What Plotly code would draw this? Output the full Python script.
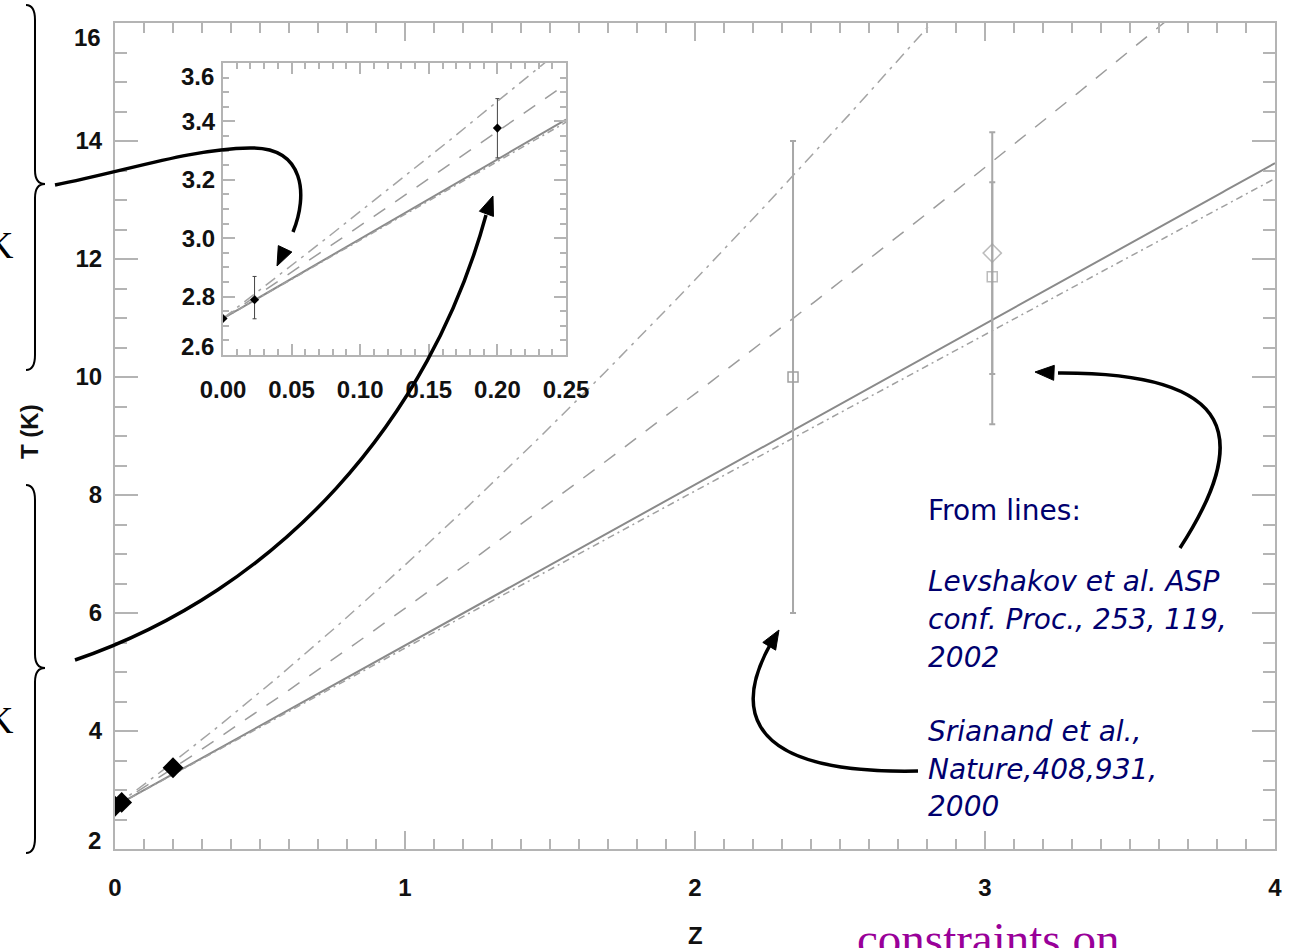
import numpy as np
import plotly.graph_objects as go

# ---------------------------------------------------------------------------
# CMB temperature vs redshift
# ---------------------------------------------------------------------------
T0 = 2.725

# model curves T(z) = T0 * (1+z)^(1-beta)
model_names = ["standard", "beta_mid", "beta_steep", "beta_low"]
model_beta = [0.0, -0.157, -0.322, 0.012]

# low-redshift SZ measurements
sz_z = [0.0, 0.023, 0.2]
sz_T = [2.725, 2.789, 3.377]
sz_err_plus = [0.0, 0.080, 0.101]
sz_err_minus = [0.0, 0.065, 0.102]

# Srianand et al. 2000
sri_z = [2.338]
sri_T = [10.0]
sri_err = [4.0]

# Levshakov et al. 2002 (two estimates at the same redshift)
lev_z = [3.025, 3.025]
lev_T = [11.7, 12.1]
lev_err_plus = [1.6, 2.05]
lev_err_minus = [1.65, 2.9]

main_yticks = [4, 6, 8, 10, 12, 14]
main_xticks = [0, 1, 2, 3, 4]
inset_xticks = [0.0, 0.05, 0.10, 0.15, 0.20, 0.25]
inset_yticks = [2.8, 3.0, 3.2, 3.4]

# ---------------------------------------------------------------------------
# page geometry (pixels)
# ---------------------------------------------------------------------------
FW, FH = 1289, 948
ML, MR, MT, MB = 115, 14, 23, 99
PW = FW - ML - MR
PH = FH - MT - MB


def px(x):
    return (x - ML) / PW


def py(y):
    return (FH - MB - y) / PH


def path_from(cmds):
    out = []
    for c in cmds:
        op, pts = c[0], c[1:]
        coords = " ".join(f"{px(a):.5f},{py(b):.5f}" for a, b in pts)
        out.append(f"{op} {coords}".strip())
    return " ".join(out)


def arrow_head(tip, tail, length=19, width=15):
    tx, ty = tip
    dx, dy = tx - tail[0], ty - tail[1]
    n = (dx * dx + dy * dy) ** 0.5
    ux, uy = dx / n, dy / n
    bx, by = tx - ux * length, ty - uy * length
    nx, ny = -uy, ux
    p1 = (bx + nx * width / 2, by + ny * width / 2)
    p2 = (bx - nx * width / 2, by - ny * width / 2)
    return path_from([("M", tip), ("L", p1), ("L", p2), ("Z",)])


AX = "#b4b4b4"
line_style = {
    "standard": dict(color="#8a8a8a", width=2, dash="solid"),
    "beta_mid": dict(color="#9c9c9c", width=1.5, dash="14px,12px"),
    "beta_steep": dict(color="#a4a4a4", width=1.5, dash="12px,6px,3px,6px"),
    "beta_low": dict(color="#a0a0a0", width=1.5, dash="7px,4px,2px,4px"),
}

fig = go.Figure()

z_main = np.linspace(0, 4, 401)
z_in = np.linspace(0, 0.25, 101)
for name, beta in zip(model_names, model_beta):
    for zz, xa, ya in ((z_main, "x", "y"), (z_in, "x2", "y2")):
        fig.add_trace(go.Scatter(
            x=zz, y=T0 * (1 + zz) ** (1 - beta), mode="lines",
            line=line_style[name], xaxis=xa, yaxis=ya,
            showlegend=False, hoverinfo="skip"))

# main panel points
fig.add_trace(go.Scatter(
    x=sz_z, y=sz_T, mode="markers",
    marker=dict(symbol="diamond", size=16, color="black"),
    error_y=dict(type="data", array=sz_err_plus, arrayminus=sz_err_minus,
                 color="black", thickness=1, width=0),
    showlegend=False))
fig.add_trace(go.Scatter(
    x=sri_z, y=sri_T, mode="markers",
    marker=dict(symbol="square-open", size=10, color="#a0a0a0", line=dict(width=1.5)),
    error_y=dict(type="data", array=sri_err, color="#a8a8a8", thickness=2, width=3),
    showlegend=False))
fig.add_trace(go.Scatter(
    x=lev_z, y=lev_T, mode="markers",
    marker=dict(symbol=["square-open", "diamond-open"], size=[10, 14],
                color="#a0a0a0", line=dict(width=1.5)),
    error_y=dict(type="data", array=lev_err_plus, arrayminus=lev_err_minus,
                 color="#a8a8a8", thickness=2, width=3),
    showlegend=False))

# inset points
fig.add_trace(go.Scatter(
    x=sz_z, y=sz_T, mode="markers", xaxis="x2", yaxis="y2",
    marker=dict(symbol="diamond", size=7, color="black"),
    error_y=dict(type="data", array=sz_err_plus, arrayminus=sz_err_minus,
                 color="#444444", thickness=1, width=2),
    showlegend=False))

tick_font = dict(family="Liberation Sans, Arial, sans-serif", size=24,
                 color="#111111", weight="bold")

axis_common = dict(showline=True, linecolor=AX, linewidth=2, mirror="ticks",
                   ticks="inside", tickcolor=AX, tickwidth=2,
                   showgrid=False, zeroline=False, tickfont=tick_font)

fig.update_layout(
    width=FW, height=FH,
    margin=dict(l=ML, r=MR, t=MT, b=MB, autoexpand=False),
    paper_bgcolor="white", plot_bgcolor="white",
    xaxis=dict(range=[0, 4], domain=[0, 1], tickvals=main_xticks,
               ticklen=18, ticklabelstandoff=16,
               minor=dict(dtick=0.1, ticklen=10, tickcolor=AX, tickwidth=2, ticks="inside"),
               **axis_common),
    yaxis=dict(range=[2, 16], domain=[0, 1], tickvals=main_yticks,
               ticklen=23, ticklabelstandoff=6,
               minor=dict(dtick=0.5, ticklen=12, tickcolor=AX, tickwidth=2, ticks="inside"),
               **axis_common),
    xaxis2=dict(range=[0, 0.25], domain=[px(223), px(566)], anchor="y2",
                tickvals=inset_xticks, ticktext=[f"{v:.2f}" for v in inset_xticks],
                ticklen=11, ticklabelstandoff=12,
                minor=dict(dtick=0.01, ticklen=6, tickcolor=AX, tickwidth=2, ticks="inside"),
                **axis_common),
    yaxis2=dict(range=[2.6, 3.6], domain=[py(355), py(63)], anchor="x2",
                tickvals=inset_yticks, ticktext=[f"{v:.1f}" for v in inset_yticks],
                ticklen=12, ticklabelstandoff=1,
                minor=dict(dtick=0.05, ticklen=6, tickcolor=AX, tickwidth=2, ticks="inside"),
                **axis_common),
)

ann = []
# end labels of the y axes sit slightly inside the frame
for txt, yv, shift in (("16", 16, -14), ("2", 2, 9)):
    ann.append(dict(x=px(103), y=yv, xref="paper", yref="y", text=txt,
                    showarrow=False, xanchor="right", yanchor="middle",
                    yshift=shift, font=tick_font))
for txt, yv, shift in (("3.6", 3.6, -14), ("2.6", 2.6, 8)):
    ann.append(dict(x=px(216), y=yv, xref="paper", yref="y2", text=txt,
                    showarrow=False, xanchor="right", yanchor="middle",
                    yshift=shift, font=tick_font))

# axis titles
ann.append(dict(x=px(695), y=py(935), xref="paper", yref="paper", text="Z",
                showarrow=False, xanchor="center", yanchor="middle", font=tick_font))
ann.append(dict(x=px(30), y=py(432), xref="paper", yref="paper", text="T (K)",
                showarrow=False, textangle=-90, xanchor="center", yanchor="middle",
                font=tick_font))

# reference notes
navy = "#00006e"
note_font = dict(family="DejaVu Sans, sans-serif", size=28, color=navy)
notes = [
    ("From lines:", 510, False),
    ("Levshakov et al. ASP", 581, True),
    ("conf. Proc., 253, 119,", 619, True),
    ("2002", 657, True),
    ("Srianand et al.,", 731, True),
    ("Nature,408,931,", 769, True),
    ("2000", 806, True),
]
for txt, yy, it in notes:
    ann.append(dict(x=px(926), y=py(yy), xref="paper", yref="paper",
                    text=f"<i>{txt}</i>" if it else txt, showarrow=False,
                    xanchor="left", yanchor="middle", font=note_font))

# slide fragments around the plot
serif = "Liberation Serif, Times New Roman, serif"
for yy in (245, 720):
    ann.append(dict(x=px(16), y=py(yy), xref="paper", yref="paper", text="K",
                    showarrow=False, xanchor="right", yanchor="middle",
                    font=dict(family=serif, size=38, color="black")))
ann.append(dict(x=px(855), y=py(939), xref="paper", yref="paper",
                text="constraints on", showarrow=False, xanchor="left",
                yanchor="middle", font=dict(family=serif, size=47, color="#990099")))

fig.update_layout(annotations=ann)

# curved pointer arrows and braces
shapes = []
arrow_defs = [
    # (curve commands, tip, point the head comes from)
    ([("M", (55, 185)), ("C", (130, 170), (190, 149), (250, 148)),
      ("C", (305, 147), (308, 195), (293, 232))], (277, 266), (293, 232)),
    ([("M", (75, 660)), ("C", (280, 590), (430, 420), (486, 215))], (493, 196), (486, 215)),
    ([("M", (1180, 548)), ("C", (1250, 440), (1240, 372), (1058, 373))], (1035, 372), (1058, 373)),
    ([("M", (918, 771)), ("C", (720, 775), (745, 690), (770, 645))], (779, 630), (770, 645)),
]
for cmds, tip, tail in arrow_defs:
    shapes.append(dict(type="path", xref="paper", yref="paper", layer="above",
                       path=path_from(cmds), line=dict(color="black", width=3.5)))
    shapes.append(dict(type="path", xref="paper", yref="paper", layer="above",
                       path=arrow_head(tip, tail), fillcolor="black",
                       line=dict(color="black", width=1)))

for top, mid, bot in ((5, 184, 370), (485, 668, 853)):
    brace = [("M", (26, top)), ("Q", (35, top), (35, top + 15)),
             ("L", (35, mid - 14)), ("Q", (35, mid), (45, mid)),
             ("Q", (35, mid), (35, mid + 14)), ("L", (35, bot - 15)),
             ("Q", (35, bot), (26, bot))]
    shapes.append(dict(type="path", xref="paper", yref="paper", layer="above",
                       path=path_from(brace), line=dict(color="black", width=2)))

fig.update_layout(shapes=shapes)

fig.write_html("out.html")
